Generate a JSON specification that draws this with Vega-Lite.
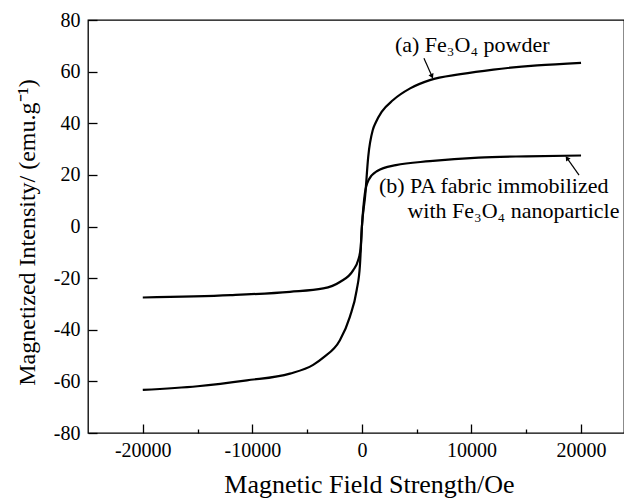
{
  "$schema": "https://vega.github.io/schema/vega-lite/v6.json",
  "width": 536,
  "height": 413,
  "autosize": {"type": "none"},
  "padding": {"left": 88, "top": 20, "right": 0, "bottom": 65},
  "background": "white",
  "config": {
    "font": "Liberation Serif",
    "view": {"stroke": "black", "strokeWidth": 1.3},
    "axis": {
      "domain": false,
      "grid": false,
      "labelFont": "Liberation Serif",
      "titleFont": "Liberation Serif",
      "labelColor": "black",
      "titleColor": "black",
      "tickColor": "black",
      "tickWidth": 1.3,
      "labelFontSize": 20,
      "titleFontSize": 24,
      "titleFontWeight": "normal"
    }
  },
  "datasets": {
    "curves": [
      {"series": "a", "H": -20000, "M": -63.3},
      {"series": "a", "H": -15000, "M": -61.9},
      {"series": "a", "H": -10500, "M": -59.6},
      {"series": "a", "H": -6570, "M": -57},
      {"series": "a", "H": -4450, "M": -53.6},
      {"series": "a", "H": -3530, "M": -50.8},
      {"series": "a", "H": -2010, "M": -44.1},
      {"series": "a", "H": -1100, "M": -35},
      {"series": "a", "H": -480, "M": -24.7},
      {"series": "a", "H": -180, "M": -15},
      {"series": "a", "H": 0, "M": 0},
      {"series": "a", "H": 300, "M": 12},
      {"series": "a", "H": 575, "M": 27},
      {"series": "a", "H": 1000, "M": 37.5},
      {"series": "a", "H": 1250, "M": 40.2},
      {"series": "a", "H": 1800, "M": 44.4},
      {"series": "a", "H": 2850, "M": 49},
      {"series": "a", "H": 4400, "M": 53.5},
      {"series": "a", "H": 6200, "M": 56.7},
      {"series": "a", "H": 9000, "M": 59},
      {"series": "a", "H": 12000, "M": 60.8},
      {"series": "a", "H": 16000, "M": 62.4},
      {"series": "a", "H": 20000, "M": 63.4},
      {"series": "b", "H": -20000, "M": -27.5},
      {"series": "b", "H": -12000, "M": -26.6},
      {"series": "b", "H": -6570, "M": -25.3},
      {"series": "b", "H": -3530, "M": -24},
      {"series": "b", "H": -2010, "M": -21.5},
      {"series": "b", "H": -790, "M": -16.9},
      {"series": "b", "H": -340, "M": -13},
      {"series": "b", "H": -120, "M": -8.5},
      {"series": "b", "H": 0, "M": 0},
      {"series": "b", "H": 270, "M": 12.8},
      {"series": "b", "H": 610, "M": 18},
      {"series": "b", "H": 1400, "M": 21.5},
      {"series": "b", "H": 3100, "M": 23.8},
      {"series": "b", "H": 6200, "M": 25.3},
      {"series": "b", "H": 10650, "M": 26.7},
      {"series": "b", "H": 15000, "M": 27.2},
      {"series": "b", "H": 20000, "M": 27.5}
    ],
    "labels": [
      {"H": 3013, "M": 67.6, "text": "(a) Fe₃O₄ powder"},
      {"H": 1552, "M": 12.9, "text": "(b) PA fabric immobilized"},
      {"H": 4150, "M": 3.2, "text": "with Fe₃O₄ nanoparticle"}
    ],
    "arrows": [
      {"arrow": "a", "H1": 5662, "M1": 65.2, "H2": 6393, "M2": 58.2},
      {"arrow": "b", "H1": 19817, "M1": 19.9, "H2": 18721, "M2": 26.5}
    ]
  },
  "layer": [
    {
      "data": {"name": "curves"},
      "mark": {"type": "line", "interpolate": "monotone", "strokeWidth": 2.2, "color": "black"},
      "encoding": {
        "x": {
          "field": "H", "type": "quantitative",
          "scale": {"domain": [-25000, 23920], "nice": false, "zero": false},
          "axis": {
            "title": "Magnetic Field Strength/Oe",
            "titleFontSize": 26,
            "values": [-20000, -15000, -10000, -5000, 0, 5000, 10000, 15000, 20000],
            "labelExpr": "datum.value % 10000 === 0 ? '' + datum.value : ''",
            "tickSize": {"condition": {"test": "datum.value % 10000 !== 0", "value": -4}, "value": -9},
            "labelPadding": 16,
            "titleX": 281,
            "titleY": 59,
            "titleBaseline": "alphabetic"
          }
        },
        "y": {
          "field": "M", "type": "quantitative",
          "scale": {"domain": [-80, 80], "nice": false, "zero": false},
          "axis": {
            "title": "Magnetized Intensity/ (emu.g⁻¹)",
            "values": [-80, -70, -60, -50, -40, -30, -20, -10, 0, 10, 20, 30, 40, 50, 60, 70, 80],
            "labelExpr": "datum.value % 20 === 0 ? '' + datum.value : ''",
            "tickSize": {"condition": {"test": "datum.value % 20 !== 0", "value": -4}, "value": -9},
            "labelPadding": 17,
            "titlePadding": 14,
            "titleY": 212
          }
        },
        "detail": {"field": "series", "type": "nominal"}
      }
    },
    {
      "mark": {"type": "rule", "color": "black", "strokeWidth": 1.3},
      "encoding": {"x": {"datum": 0, "type": "quantitative"}}
    },
    {
      "mark": {"type": "rule", "color": "black", "strokeWidth": 1.3},
      "encoding": {"y": {"datum": 0, "type": "quantitative"}}
    },
    {
      "data": {"name": "labels"},
      "mark": {"type": "text", "align": "left", "baseline": "alphabetic", "fontSize": 22, "font": "Liberation Serif", "color": "black"},
      "encoding": {
        "x": {"field": "H", "type": "quantitative"},
        "y": {"field": "M", "type": "quantitative"},
        "text": {"field": "text"}
      }
    },
    {
      "data": {"name": "arrows"},
      "mark": {"type": "rule", "color": "black", "strokeWidth": 1.2},
      "encoding": {
        "x": {"field": "H1", "type": "quantitative"},
        "y": {"field": "M1", "type": "quantitative"},
        "x2": {"field": "H2"},
        "y2": {"field": "M2"}
      }
    },
    {
      "data": {"name": "arrows"},
      "transform": [{"filter": "datum.arrow === 'a'"}],
      "mark": {"type": "point", "shape": "triangle-up", "filled": true, "color": "black", "size": 30, "angle": 156, "opacity": 1},
      "encoding": {
        "x": {"field": "H2", "type": "quantitative"},
        "y": {"field": "M2", "type": "quantitative"}
      }
    },
    {
      "data": {"name": "arrows"},
      "transform": [{"filter": "datum.arrow === 'b'"}],
      "mark": {"type": "point", "shape": "triangle-up", "filled": true, "color": "black", "size": 30, "angle": 325, "opacity": 1},
      "encoding": {
        "x": {"field": "H2", "type": "quantitative"},
        "y": {"field": "M2", "type": "quantitative"}
      }
    }
  ]
}
